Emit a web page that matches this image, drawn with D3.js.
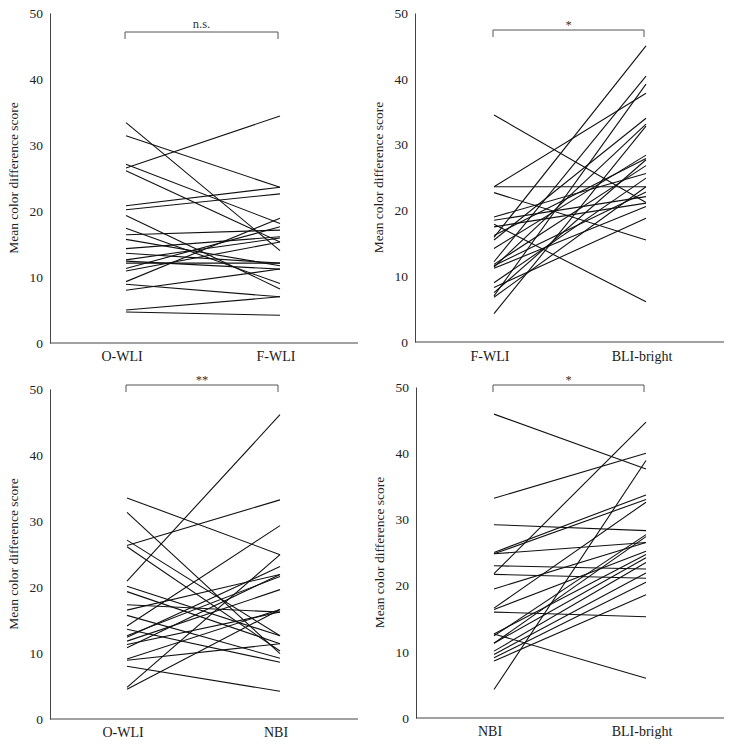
<!DOCTYPE html>
<html lang="en">
<head>
<meta charset="UTF-8">
<title>Mean color difference score</title>
<script src="https://d3js.org/d3.v7.min.js"></script>
<style>
    body { margin: 0; background: #fff; }
    svg { display: block; }
    .axis text { font-family: "Liberation Serif", "DejaVu Serif", serif; font-size: 13.5px; fill: #222; }
    .axis path { stroke: #444; }
    .pair { stroke: #111; stroke-width: 1.1; fill: none; }
    .cat { font-family: "Liberation Serif", serif; font-size: 14px; fill: #1a1a1a; }
    .ytitle { font-family: "Liberation Serif", serif; font-size: 13.5px; fill: #222; }
    .sig { font-family: "Liberation Serif", serif; font-size: 12.5px; fill: #333; }
    .bracket { stroke: #555; fill: none; stroke-width: 1; }
</style>
</head>
<body>
<svg width="732" height="746"></svg>
<script>
// y ticks shared by all panels
const yTicks = [0, 10, 20, 30, 40, 50];
const yTitle = "Mean color difference score";

// panel 1: O-WLI vs F-WLI
const p1Cats = ["O-WLI", "F-WLI"];
const p1Sig = "n.s.";
const p1Left  = [33.4, 31.4, 26.5, 27.1, 26.1, 20.8, 20.2, 19.3, 17.4, 16.4, 15.7, 14.3, 13.6, 12.6, 12.4, 12.1, 11.3, 10.9, 9.3, 8.9, 8.0, 5.0, 4.7];
const p1Right = [14.0, 23.6, 34.4, 18.1, 15.3, 23.6, 22.6, 8.2, 9.0, 17.1, 11.7, 16.1, 12.1, 15.9, 11.2, 12.1, 17.6, 15.3, 18.9, 7.0, 11.2, 7.0, 4.2];

// panel 2: F-WLI vs BLI-bright
const p2Cats = ["F-WLI", "BLI-bright"];
const p2Sig = "*";
const p2Left  = [34.5, 23.6, 23.6, 22.7, 19.0, 18.5, 17.9, 17.5, 16.2, 15.9, 15.5, 14.2, 12.2, 11.8, 11.6, 11.4, 11.2, 9.0, 8.3, 7.5, 7.0, 6.8, 4.3];
const p2Right = [21.2, 23.6, 37.8, 15.5, 25.6, 22.1, 6.1, 21.1, 27.9, 45.0, 34.0, 28.4, 40.4, 26.8, 22.8, 33.1, 20.6, 24.9, 18.8, 27.7, 39.2, 23.6, 32.8];

// panel 3: O-WLI vs NBI
const p3Cats = ["O-WLI", "NBI"];
const p3Sig = "**";
const p3Left  = [33.5, 31.3, 27.1, 26.3, 26.1, 20.9, 20.1, 19.3, 17.3, 16.5, 15.7, 14.1, 13.6, 12.6, 12.4, 11.8, 11.3, 10.8, 9.1, 8.9, 8.0, 4.8, 4.5];
const p3Right = [24.9, 9.9, 12.6, 33.2, 10.3, 46.1, 12.6, 11.4, 16.2, 21.9, 9.2, 29.3, 8.6, 21.6, 23.1, 19.6, 16.2, 21.9, 16.6, 11.4, 4.2, 24.9, 16.6];

// panel 4: NBI vs BLI-bright
const p4Cats = ["NBI", "BLI-bright"];
const p4Sig = "*";
const p4Left  = [45.9, 33.2, 29.2, 25.0, 24.8, 24.8, 23.0, 21.8, 21.7, 19.5, 16.6, 16.4, 16.0, 12.7, 12.7, 12.4, 11.3, 11.3, 10.1, 9.6, 9.1, 8.6, 4.3];
const p4Right = [37.6, 40.0, 28.3, 33.7, 33.0, 26.5, 22.5, 44.7, 21.1, 26.5, 32.6, 25.2, 15.3, 6.0, 24.7, 27.7, 24.2, 27.4, 23.5, 21.9, 20.5, 18.6, 38.9];

const panels = [
    {cats: p1Cats, sig: p1Sig, left: p1Left, right: p1Right, ax: 50, axEnd: 358, y0: 343, y50: 13, x1: 126, x2: 280, brY: 32, catY: 361},
    {cats: p2Cats, sig: p2Sig, left: p2Left, right: p2Right, ax: 415, axEnd: 724, y0: 342, y50: 13, x1: 494, x2: 646, brY: 30, catY: 361},
    {cats: p3Cats, sig: p3Sig, left: p3Left, right: p3Right, ax: 50, axEnd: 358, y0: 719, y50: 389, x1: 127, x2: 280, brY: 385, catY: 737},
    {cats: p4Cats, sig: p4Sig, left: p4Left, right: p4Right, ax: 416, axEnd: 724, y0: 718, y50: 387, x1: 494, x2: 646, brY: 385, catY: 736}
];

const svg = d3.select("svg");

panels.forEach(p => {
    const g = svg.append("g");

    const y = d3.scaleLinear()
        .domain([0, 50])
        .range([p.y0, p.y50]);

    const x = d3.scalePoint()
        .domain(p.cats)
        .range([p.x1, p.x2]);

    // y axis, no tick marks
    g.append("g")
        .attr("class", "axis")
        .attr("transform", "translate(" + p.ax + ",0)")
        .call(d3.axisLeft(y).tickValues(yTicks).tickSize(0).tickPadding(7).tickSizeOuter(0));

    // x axis baseline spans the whole panel
    g.append("line")
        .attr("x1", p.ax).attr("x2", p.axEnd)
        .attr("y1", p.y0).attr("y2", p.y0)
        .attr("stroke", "#444");

    g.selectAll(".cat")
        .data(p.cats)
        .enter().append("text")
        .attr("class", "cat")
        .attr("x", d => x(d) - 4)
        .attr("y", p.catY)
        .attr("text-anchor", "middle")
        .text(d => d);

    g.append("text")
        .attr("class", "ytitle")
        .attr("transform", "translate(" + (p.ax - 32) + "," + ((p.y0 + p.y50) / 2) + ") rotate(-90)")
        .attr("text-anchor", "middle")
        .text(yTitle);

    // paired lines
    const pairs = p.left.map((v, i) => [v, p.right[i]]);
    g.selectAll(".pair")
        .data(pairs)
        .enter().append("line")
        .attr("class", "pair")
        .attr("x1", x(p.cats[0]))
        .attr("x2", x(p.cats[1]))
        .attr("y1", d => y(d[0]))
        .attr("y2", d => y(d[1]));

    // significance bracket
    const bx1 = x(p.cats[0]) - 1, bx2 = x(p.cats[1]) - 2;
    g.append("path")
        .attr("class", "bracket")
        .attr("d", "M" + bx1 + "," + (p.brY + 7) + "V" + p.brY + "H" + bx2 + "V" + (p.brY + 7));

    g.append("text")
        .attr("class", "sig")
        .attr("x", (bx1 + bx2) / 2)
        .attr("y", p.brY - (p.sig === "n.s." ? 4 : 1))
        .attr("text-anchor", "middle")
        .text(p.sig);
});
</script>
</body>
</html>
